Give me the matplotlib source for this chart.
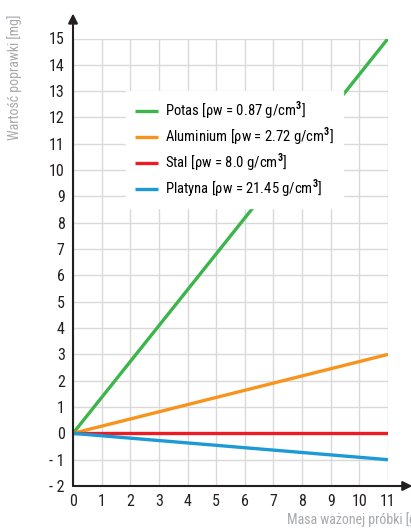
import matplotlib.pyplot as plt
from matplotlib import font_manager

# wąska czcionka, jak w oryginale (jeśli jest)
nazwy = {f.name for f in font_manager.fontManager.ttflist}
rodzina = 'Roboto Condensed' if 'Roboto Condensed' in nazwy else 'DejaVu Sans'

plt.rcParams['font.family'] = [rodzina, 'DejaVu Sans']
plt.rcParams['mathtext.fontset'] = 'custom'
plt.rcParams['mathtext.rm'] = rodzina
plt.rcParams['mathtext.bf'] = rodzina + ':bold'

# dane
masa = [0, 11]
labels = [r'Potas [ρw = 0.87 g/cm$^{\mathbf{3}}$]',
          r'Aluminium [ρw = 2.72 g/cm$^{\mathbf{3}}$]',
          r'Stal [ρw = 8.0 g/cm$^{\mathbf{3}}$]',
          r'Platyna [ρw = 21.45 g/cm$^{\mathbf{3}}$]']
potas = [0, 15]
aluminium = [0, 3]
stal = [0, 0]
platyna = [0, -1]
kolory = ['#3cb54a', '#f7941d', '#ed1c24', '#1c9ad6']
x_ticks = list(range(0, 12))
y_ticks = list(range(-2, 16))
y_tick_labels = [('- ' + str(-v)) if v < 0 else str(v) for v in y_ticks]

fig = plt.figure(figsize=(4.11, 5.29), dpi=100)
ax = fig.add_axes([73 / 411, 43 / 529, 315 / 411, 447.5 / 529])

for serie, lab, kol in zip([potas, aluminium, stal, platyna], labels, kolory):
    ax.plot(masa, serie, color=kol, lw=2.4, label=lab, solid_capstyle='butt', zorder=3)

ax.set_xlim(0, 11)
ax.set_ylim(-2, 15)
ax.set_xticks(x_ticks)
ax.set_yticks(y_ticks)
ax.set_yticklabels(y_tick_labels)
ax.tick_params(length=0, labelsize=11.5, colors='#231f20', pad=6)
ax.grid(True, color='#d9d9d9', lw=1)
ax.set_axisbelow(True)
for s in ax.spines.values():
    s.set_visible(False)

# osie ze strzałkami
ax.annotate('', xy=(0, 15.95), xytext=(0, -2), xycoords='data',
            arrowprops=dict(arrowstyle='-|>', color='#231f20', lw=1.5, mutation_scale=14,
                            shrinkA=0, shrinkB=0), annotation_clip=False)
ax.annotate('', xy=(11.85, -2), xytext=(0, -2), xycoords='data',
            arrowprops=dict(arrowstyle='-|>', color='#231f20', lw=1.5, mutation_scale=14,
                            shrinkA=0, shrinkB=0), annotation_clip=False)

leg = ax.legend(loc='upper left', bbox_to_anchor=(1.85, 13.0), bbox_transform=ax.transData,
                fontsize=10.5, frameon=True, fancybox=False, framealpha=1, edgecolor='white',
                handlelength=1.6, handletextpad=0.5, labelspacing=0.3, borderpad=0.6,
                borderaxespad=0)
leg.set_zorder(5)

fig.text(15 / 411, 1 - 15 / 529, 'Wartość poprawki [mg]', rotation=90, ha='center', va='top',
         fontsize=10, color='#a7a9ac')
fig.text(287 / 411, 9 / 529, 'Masa ważonej próbki [g]', ha='left', va='center',
         fontsize=10, color='#a7a9ac')

fig.savefig('out.png', dpi=100)
